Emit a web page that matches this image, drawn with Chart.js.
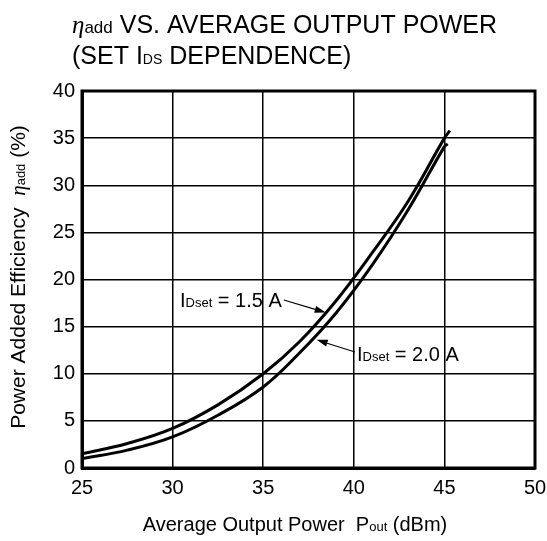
<!DOCTYPE html>
<html>
<head>
<meta charset="utf-8">
<script src="https://cdn.jsdelivr.net/npm/chart.js@4/dist/chart.umd.min.js"></script>
<style>
  html, body { margin: 0; padding: 0; background: #fff; }
  canvas { display: block; }
</style>
</head>
<body>
<canvas id="etaChart" width="547" height="541"></canvas>
<script>
// values
const pout15 = [25, 27.5, 30, 32.5, 35, 37, 39, 41, 43, 45, 45.3];
const eff15  = [1.5, 2.6, 4.2, 6.7, 10, 13.4, 17.7, 22.8, 28.3, 35, 35.8];
const pout20 = [25, 27.5, 30, 32.5, 35, 37, 39, 41, 43, 45, 45.18];
const eff20  = [1.0, 1.9, 3.3, 5.6, 8.6, 12.2, 16.4, 21.5, 27.4, 34.1, 34.4];
const xTicks = [25, 30, 35, 40, 45, 50];
const yTicks = [0, 5, 10, 15, 20, 25, 30, 35, 40];

const SANS = '"Liberation Sans", Arial, sans-serif';

function toPoints(xs, ys) {
  return xs.map((x, i) => ({ x: x, y: ys[i] }));
}

// draw a row of text pieces with different fonts, one after the other
function runsWidth(ctx, runs) {
  let w = 0;
  runs.forEach(r => { ctx.font = r.font; w += ctx.measureText(r.t).width; });
  return w;
}
function drawRuns(ctx, x, y, runs) {
  runs.forEach(r => {
    ctx.font = r.font;
    ctx.fillText(r.t, x, y);
    x += ctx.measureText(r.t).width;
  });
  return x;
}

function arrow(ctx, x1, y1, x2, y2) {
  const a = Math.atan2(y2 - y1, x2 - x1);
  const len = 11, half = 3.5;
  ctx.beginPath();
  ctx.moveTo(x1, y1);
  ctx.lineTo(x2 - Math.cos(a) * len, y2 - Math.sin(a) * len);
  ctx.lineWidth = 1.1;
  ctx.stroke();
  ctx.beginPath();
  ctx.moveTo(x2, y2);
  ctx.lineTo(x2 - Math.cos(a) * len - Math.sin(a) * half, y2 - Math.sin(a) * len + Math.cos(a) * half);
  ctx.lineTo(x2 - Math.cos(a) * len + Math.sin(a) * half, y2 - Math.sin(a) * len - Math.cos(a) * half);
  ctx.closePath();
  ctx.fill();
}

const decorations = {
  id: 'decorations',
  afterDraw(chart) {
    const ctx = chart.ctx;
    const area = chart.chartArea;
    const xs = chart.scales.x, ys = chart.scales.y;
    ctx.save();
    ctx.fillStyle = '#000';
    ctx.strokeStyle = '#000';
    ctx.textBaseline = 'alphabetic';

    // frame
    ctx.lineWidth = 3;
    ctx.strokeRect(area.left, area.top, area.right - area.left, area.bottom - area.top);

    // title
    drawRuns(ctx, 72, 33, [
      { t: 'η', font: 'italic 25px "Liberation Serif", serif' },
      { t: 'add', font: '17px ' + SANS },
      { t: ' VS. AVERAGE OUTPUT POWER', font: '25px ' + SANS }
    ]);
    drawRuns(ctx, 72, 64, [
      { t: '(SET I', font: '25px ' + SANS },
      { t: 'DS', font: '14px ' + SANS },
      { t: ' DEPENDENCE)', font: '25px ' + SANS }
    ]);

    // x axis title
    const xRuns = [
      { t: 'Average Output Power  P', font: '20px ' + SANS },
      { t: 'out', font: '13px ' + SANS },
      { t: ' (dBm)', font: '20px ' + SANS }
    ];
    const xw = runsWidth(ctx, xRuns);
    drawRuns(ctx, 295 - xw / 2, 531, xRuns);

    // y axis title
    const yRuns = [
      { t: 'Power Added Efficiency  ', font: '21px ' + SANS },
      { t: 'η', font: 'italic 21px "Liberation Serif", serif' },
      { t: 'add', font: '13px ' + SANS },
      { t: ' (%)', font: '21px ' + SANS }
    ];
    const yw = runsWidth(ctx, yRuns);
    ctx.save();
    ctx.translate(25, 277);
    ctx.rotate(-Math.PI / 2);
    drawRuns(ctx, -yw / 2, 0, yRuns);
    ctx.restore();

    // curve labels with arrows
    const labFont = [ '20px ' + SANS, '13px ' + SANS ];
    const end15 = drawRuns(ctx, 180, 307, [
      { t: 'I', font: labFont[0] },
      { t: 'Dset', font: labFont[1] },
      { t: ' = 1.5 A', font: labFont[0] }
    ]);
    arrow(ctx, end15 + 2, 300, xs.getPixelForValue(38.45), ys.getPixelForValue(16.5));

    drawRuns(ctx, 357, 361, [
      { t: 'I', font: labFont[0] },
      { t: 'Dset', font: labFont[1] },
      { t: ' = 2.0 A', font: labFont[0] }
    ]);
    arrow(ctx, 355, 352, xs.getPixelForValue(37.95), ys.getPixelForValue(13.6));

    ctx.restore();
  }
};

const ctx = document.getElementById('etaChart').getContext('2d');
const etaChart = new Chart(ctx, {
  type: 'line',
  data: {
    datasets: [{
      label: 'IDset = 1.5 A',
      data: toPoints(pout15, eff15),
      borderColor: '#000',
      borderWidth: 3,
      pointRadius: 0,
      tension: 0.4,
      fill: false
    }, {
      label: 'IDset = 2.0 A',
      data: toPoints(pout20, eff20),
      borderColor: '#000',
      borderWidth: 3,
      pointRadius: 0,
      tension: 0.4,
      fill: false
    }]
  },
  options: {
    responsive: false,
    animation: false,
    layout: { padding: { top: 91, right: 12, left: 0, bottom: 0 } },
    plugins: {
      legend: { display: false },
      tooltip: { enabled: false }
    },
    scales: {
      x: {
        type: 'linear',
        min: 25,
        max: 50,
        afterBuildTicks: s => { s.ticks = xTicks.map(v => ({ value: v })); },
        afterFit: s => { s.height = 73; s.paddingLeft = 0; s.paddingRight = 0; },
        ticks: { color: '#000', font: { family: SANS, size: 20 }, padding: 8 },
        grid: { color: '#000', lineWidth: 1.5, drawTicks: false },
        border: { color: '#000', width: 3 }
      },
      y: {
        min: 0,
        max: 40,
        afterBuildTicks: s => { s.ticks = yTicks.map(v => ({ value: v })); },
        afterFit: s => { s.width = 82; s.paddingTop = 0; s.paddingBottom = 0; },
        ticks: { color: '#000', font: { family: SANS, size: 20 }, padding: 7 },
        grid: { color: '#000', lineWidth: 1.5, drawTicks: false },
        border: { color: '#000', width: 3 }
      }
    }
  },
  plugins: [decorations]
});
</script>
</body>
</html>
